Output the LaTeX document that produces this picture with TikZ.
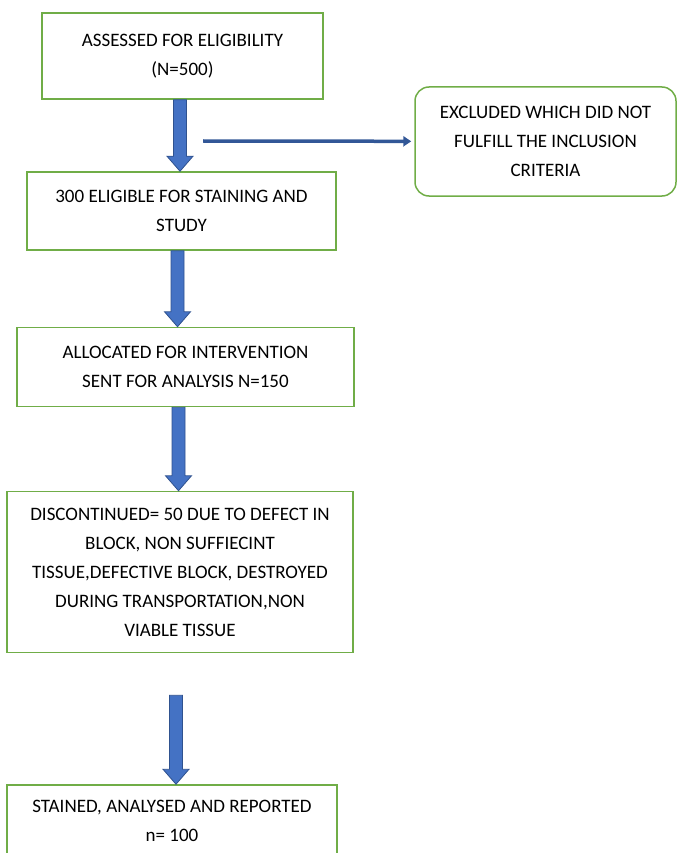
\documentclass[tikz,border=0pt]{standalone}
\usepackage{fontspec}
\setmainfont{Carlito}
\usetikzlibrary{calc,arrows.meta}
\definecolor{boxgreen}{HTML}{70AD47}
\definecolor{arrowblue}{HTML}{4472C4}
\definecolor{arrowedge}{HTML}{2F528F}
\tikzset{
	box/.style={draw=boxgreen, line width=1.5pt, align=center, inner sep=0pt, text=black, font=\fontsize{19}{29}\selectfont},
	exclbox/.style={box, rounded corners=14pt},
	blockarrow/.style={draw=arrowedge, fill=arrowblue, line width=0.8pt, line join=miter,
		to path={let \p1=(\tikztostart), \p2=(\tikztotarget) in
			(\x1-6.5pt,\y1) -- (\x1+6.5pt,\y1) -- (\x1+6.5pt,\y2+15pt) -- (\x1+13pt,\y2+15pt)
			-- (\x1,\y2) -- (\x1-13pt,\y2+15pt) -- (\x1-6.5pt,\y2+15pt) -- cycle}},
	sidearrow/.style={draw=arrowedge!85!arrowblue, line width=3.5pt, -{Triangle[length=8pt,width=10pt]}, shorten >=3pt},
}

\begin{document}
\begin{tikzpicture}[x=1pt, y=-1pt]
	\clip (0,0) rectangle (677,853);
	\node[box, minimum width=281pt, minimum height=86pt] (assessed) at (182.5,56) {ASSESSED FOR ELIGIBILITY\\(N=500)};
	\node[exclbox, minimum width=261pt, minimum height=109pt] (excluded) at (545.5,141.5) {EXCLUDED WHICH DID NOT\\FULFILL THE INCLUSION\\CRITERIA};
	\node[box, minimum width=309pt, minimum height=78pt] (eligible) at (181.5,211) {300 ELIGIBLE FOR STAINING AND\\STUDY};
	\node[box, minimum width=337pt, minimum height=79pt] (allocated) at (185.5,367) {ALLOCATED FOR INTERVENTION\\SENT FOR ANALYSIS N=150};
	\node[box, minimum width=346pt, minimum height=161pt] (discont) at (180,572) {DISCONTINUED= 50 DUE TO DEFECT IN\\BLOCK, NON SUFFIECINT\\TISSUE,DEFECTIVE BLOCK, DESTROYED\\DURING TRANSPORTATION,NON\\VIABLE TISSUE};
	\node[box, minimum width=330pt, minimum height=71pt] (stained) at (172,820.5) {STAINED, ANALYSED AND REPORTED\\n= 100};
	\coordinate (split) at (203,141);

	\draw[blockarrow] ([xshift=-2.5pt]assessed.south) to (eligible.north);
	\draw[blockarrow] ([xshift=-4pt]eligible.south) to (allocated.north);
	\draw[blockarrow] ([xshift=-7pt]allocated.south) to (discont.north);
	\draw[blockarrow] ([xshift=-4pt,yshift=-42pt]discont.south) to (stained.north);
	\draw[sidearrow] (split) -- (excluded);
\end{tikzpicture}
\end{document}
